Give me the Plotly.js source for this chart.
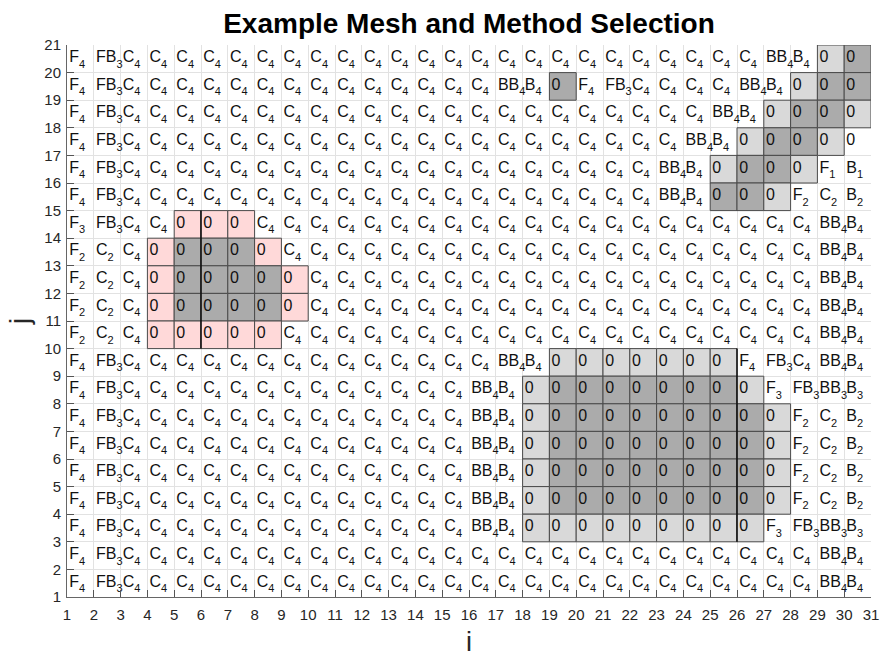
<!DOCTYPE html>
<html>
<head>
<meta charset="utf-8">
<script src="https://cdn.plot.ly/plotly-3.0.1.min.js"></script>
<style>
html,body{margin:0;padding:0;background:#fff;}
#chart{width:881px;height:657px;}
</style>
</head>
<body>
<div id="chart"></div>
<script>
// ---- data: cell labels per mesh row j (columns i = 1..30) ----
// token "Xn" = method X with subscript n; "0" = blocked cell;
// suffix l/d/p on a 0 = light grey / dark grey / pink cell fill
const colIndex = [1,2,3,4,5,6,7,8,9,10,11,12,13,14,15,16,17,18,19,20,21,22,23,24,25,26,27,28,29,30];
const rowIndex = [20,19,18,17,16,15,14,13,12,11,10,9,8,7,6,5,4,3,2,1];
const xTickVals = [1,2,3,4,5,6,7,8,9,10,11,12,13,14,15,16,17,18,19,20,21,22,23,24,25,26,27,28,29,30,31];
const yTickVals = [1,2,3,4,5,6,7,8,9,10,11,12,13,14,15,16,17,18,19,20,21];

const labelsJ20 = "F4 FB3  C4 C4 C4 C4 C4  C4 C4 C4 C4 C4  C4 C4 C4 C4 C4  C4 C4 C4 C4 C4  C4 C4 C4 C4  BB4 B4 0l 0d";
const labelsJ19 = "F4 FB3  C4 C4 C4 C4 C4  C4 C4 C4 C4 C4  C4 C4 C4 C4  BB4 B4 0d F4 FB3 C4 C4 C4 C4 BB4 B4 0l 0d 0d";
const labelsJ18 = "F4 FB3  C4 C4 C4 C4 C4  C4 C4 C4 C4 C4  C4 C4 C4 C4 C4  C4 C4 C4 C4 C4  C4 C4  BB4 B4 0l 0d 0d 0l";
const labelsJ17 = "F4 FB3  C4 C4 C4 C4 C4  C4 C4 C4 C4 C4  C4 C4 C4 C4 C4  C4 C4 C4 C4 C4  C4  BB4 B4 0l 0d 0d 0l 0";
const labelsJ16 = "F4 FB3  C4 C4 C4 C4 C4  C4 C4 C4 C4 C4  C4 C4 C4 C4 C4  C4 C4 C4 C4 C4  BB4 B4 0l 0d 0d 0l F1 B1";
const labelsJ15 = "F4 FB3  C4 C4 C4 C4 C4  C4 C4 C4 C4 C4  C4 C4 C4 C4 C4  C4 C4 C4 C4 C4  BB4 B4 0d 0d 0l F2 C2 B2";
const labelsJ14 = "F3 FB3 C4 C4 0p 0p 0p  C4 C4 C4 C4 C4  C4 C4 C4 C4 C4  C4 C4 C4 C4 C4  C4 C4 C4 C4 C4  C4  BB4 B4";
const labelsJ13 = "F2 C2 C4 0p 0d 0d 0d 0p  C4 C4 C4 C4 C4  C4 C4 C4 C4 C4  C4 C4 C4 C4 C4  C4 C4 C4 C4 C4  BB4 B4";
const labelsJ12 = "F2 C2 C4 0p 0d 0d 0d 0d 0p  C4 C4 C4 C4 C4  C4 C4 C4 C4 C4  C4 C4 C4 C4 C4  C4 C4 C4 C4  BB4 B4";
const labelsJ11 = "F2 C2 C4 0p 0d 0d 0d 0d 0p  C4 C4 C4 C4 C4  C4 C4 C4 C4 C4  C4 C4 C4 C4 C4  C4 C4 C4 C4  BB4 B4";
const labelsJ10 = "F2 C2 C4 0p 0p 0p 0p 0p  C4 C4 C4 C4 C4  C4 C4 C4 C4 C4  C4 C4 C4 C4 C4  C4 C4 C4 C4 C4  BB4 B4";
const labelsJ9  = "F4 FB3  C4 C4 C4 C4 C4  C4 C4 C4 C4 C4  C4 C4 C4 C4  BB4 B4 0l 0l 0l 0l 0l 0l 0l F4 FB3 C4 BB4 B4";
const labelsJ8  = "F4 FB3  C4 C4 C4 C4 C4  C4 C4 C4 C4 C4  C4 C4 C4  BB4 B4 0l 0d 0d 0d 0d 0d 0d 0d 0l F3 FB3 BB3 B3";
const labelsJ7  = "F4 FB3  C4 C4 C4 C4 C4  C4 C4 C4 C4 C4  C4 C4 C4  BB4 B4 0l 0d 0d 0d 0d 0d 0d 0d 0d 0l F2 C2 B2";
const labelsJ6  = "F4 FB3  C4 C4 C4 C4 C4  C4 C4 C4 C4 C4  C4 C4 C4  BB4 B4 0l 0d 0d 0d 0d 0d 0d 0d 0d 0l F2 C2 B2";
const labelsJ5  = "F4 FB3  C4 C4 C4 C4 C4  C4 C4 C4 C4 C4  C4 C4 C4  BB4 B4 0l 0d 0d 0d 0d 0d 0d 0d 0d 0l F2 C2 B2";
const labelsJ4  = "F4 FB3  C4 C4 C4 C4 C4  C4 C4 C4 C4 C4  C4 C4 C4  BB4 B4 0l 0d 0d 0d 0d 0d 0d 0d 0d 0l F2 C2 B2";
const labelsJ3  = "F4 FB3  C4 C4 C4 C4 C4  C4 C4 C4 C4 C4  C4 C4 C4  BB4 B4 0l 0l 0l 0l 0l 0l 0l 0l 0l F3 FB3 BB3 B3";
const labelsJ2  = "F4 FB3  C4 C4 C4 C4 C4  C4 C4 C4 C4 C4  C4 C4 C4 C4 C4  C4 C4 C4 C4 C4  C4 C4 C4 C4 C4  C4  BB4 B4";
const labelsJ1  = "F4 FB3  C4 C4 C4 C4 C4  C4 C4 C4 C4 C4  C4 C4 C4 C4 C4  C4 C4 C4 C4 C4  C4 C4 C4 C4 C4  C4  BB4 B4";

// partition lines drawn in black (x position, y start, y end)
const cutLineX  = [6, 26];
const cutLineY0 = [10, 3];
const cutLineY1 = [15, 10];

const titleText = "Example Mesh and Method Selection";
const xLabel = "i";
const yLabel = "j";

// ---- styling ----
const FONT = "Liberation Sans, Arial, Helvetica, sans-serif";
const fillColors = { l: "#d9d9d9", d: "#ababab", p: "#ffd9d9" };
const edgeColor = "#4a4a4a";
const textColor = "#111111";
const mainSize = 16, subSize = 11;
const xPad = 0.08;      // left padding of cell text (data units)
const yMid = 0.52;      // vertical position of letters inside cell
const subDrop = 0.20;   // subscript drop (data units)

const rowLabelStrings = [labelsJ20,labelsJ19,labelsJ18,labelsJ17,labelsJ16,labelsJ15,labelsJ14,
  labelsJ13,labelsJ12,labelsJ11,labelsJ10,labelsJ9,labelsJ8,labelsJ7,labelsJ6,labelsJ5,labelsJ4,
  labelsJ3,labelsJ2,labelsJ1];

const shapes = [];
const mx = [], my = [], mt = [];
const sx = [], sy = [], st = [];

rowLabelStrings.forEach((rowStr, r) => {
  const toks = rowStr.trim().split(/\s+/);
  if (toks.length !== colIndex.length) throw new Error("row j=" + rowIndex[r] + " has " + toks.length + " cells");
  const j = rowIndex[r];
  toks.forEach((tok, c) => {
    const i = colIndex[c];
    let m = tok.match(/^0([ldp]?)$/);
    if (m) {
      if (m[1]) {
        shapes.push({type:"rect", xref:"x", yref:"y", x0:i, x1:i+1, y0:j, y1:j+1,
          fillcolor: fillColors[m[1]], line:{color:edgeColor, width:1}, layer:"between"});
      }
      mx.push(i + xPad); my.push(j + yMid); mt.push("0");
      return;
    }
    m = tok.match(/^([A-Z]+)(\d)$/);
    mx.push(i + xPad); my.push(j + yMid); mt.push(m[1]);
    sx.push(i + xPad); sy.push(j + yMid - subDrop);
    st.push('<span style="color:rgba(0,0,0,0)">' + m[1] + '</span><span style="font-size:' + subSize + 'px">' + m[2] + '</span>');
  });
});

const traces = [];
cutLineX.forEach((x, k) => {
  traces.push({type:"scatter", mode:"lines", x:[x, x], y:[cutLineY0[k], cutLineY1[k]],
    line:{color:"#000000", width:1.3}, hoverinfo:"skip", showlegend:false});
});
traces.push({type:"scatter", mode:"text", x:mx, y:my, text:mt, textposition:"middle right",
  textfont:{family:FONT, size:mainSize, color:textColor}, hoverinfo:"skip", showlegend:false, cliponaxis:false});
traces.push({type:"scatter", mode:"text", x:sx, y:sy, text:st, textposition:"middle right",
  textfont:{family:FONT, size:mainSize, color:textColor}, hoverinfo:"skip", showlegend:false, cliponaxis:false});

const axisCommon = {
  ticks:"inside", ticklen:7, tickwidth:1, tickcolor:"#555555",
  showline:true, linecolor:"#666666", linewidth:1,
  showgrid:true, gridcolor:"#e2e2e2", gridwidth:1, zeroline:false,
  tickfont:{family:FONT, size:15, color:"#262626"}, fixedrange:true, automargin:false
};

const layout = {
  width:881, height:657,
  margin:{l:67, r:10, t:45, b:60},
  paper_bgcolor:"#ffffff", plot_bgcolor:"#ffffff",
  showlegend:false,
  title:{text:titleText, font:{family:FONT, size:28, color:"#000000", weight:"bold"},
    x:0.5, xref:"paper", xanchor:"center", y:1-23/657, yref:"container", yanchor:"middle"},
  xaxis: Object.assign({}, axisCommon, {range:[1,31], tickmode:"array", tickvals:xTickVals,
    ticktext:xTickVals.map(String), ticklabelstandoff:4,
    title:{text:xLabel, font:{family:FONT, size:27, color:"#262626"}, standoff:20}}),
  yaxis: Object.assign({}, axisCommon, {range:[1,21], tickmode:"array", tickvals:yTickVals,
    ticktext:yTickVals.map(String), ticklabelstandoff:2,
    title:{text:yLabel, font:{family:FONT, size:27, color:"#262626"}, standoff:6}}),
  shapes: shapes
};

Plotly.newPlot("chart", traces, layout, {displayModeBar:false, staticPlot:true});
</script>
</body>
</html>
